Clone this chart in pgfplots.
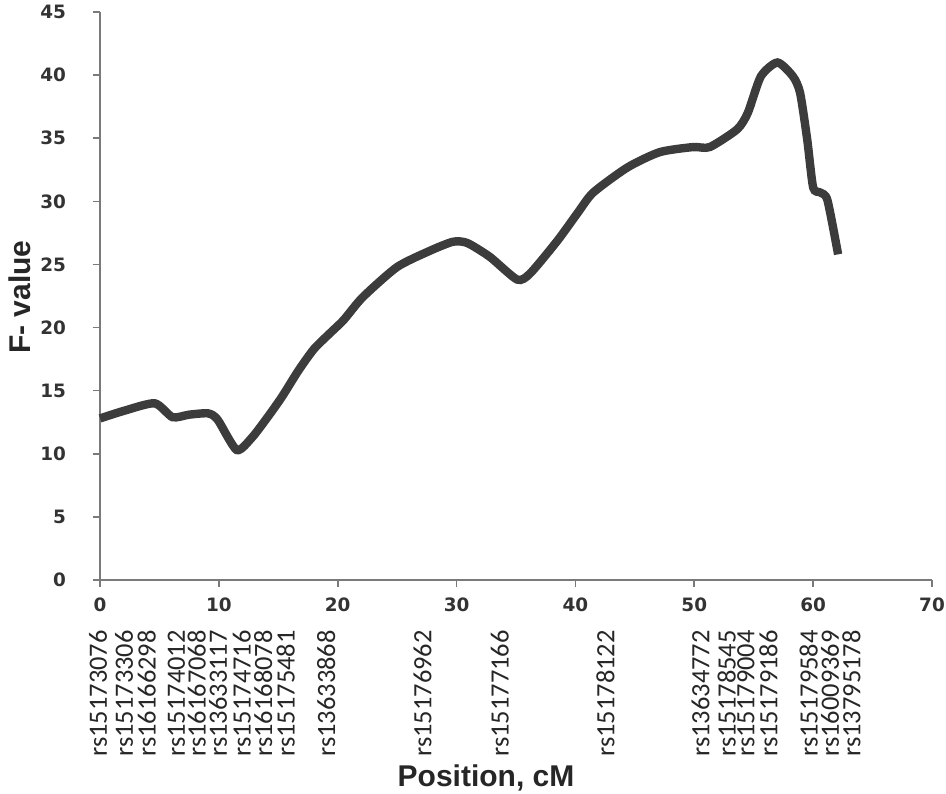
\documentclass[border=0pt]{standalone}
\usepackage{pgfplots}
\pgfplotsset{compat=1.18}
\usepackage{fontspec}
\setmainfont{Liberation Sans}
\newfontfamily\carlito{Carlito}
\newfontfamily\dejavu{DejaVu Sans}

\definecolor{clrCurve}{HTML}{3C3C3C}
\definecolor{clrAxis}{HTML}{7A7A7A}

\begin{document}
\begin{tikzpicture}
\useasboundingbox (-50pt,-106.5pt) rectangle (423pt,290pt);
\begin{axis}[
    scale only axis,
    width=416pt, height=284pt,
    xmin=0, xmax=70, ymin=0, ymax=45,
    xtick={0,10,...,70},
    ytick={0,5,...,45},
    axis lines=left,
    axis line style={clrAxis, line width=0.8pt, -},
    tick style={clrAxis, line width=0.8pt},
    tick align=outside,
    major tick length=3.5pt,
    /pgf/number format/assume math mode=true,
    tick label style={font=\dejavu\bfseries\fontsize{9.2}{11}\selectfont, text=black!80},
    yticklabel style={xshift=-10pt},
    xticklabel style={yshift=-2pt},
    extra x ticks={0,2.2,4.1,6.6,8.3,10.1,12.1,13.9,15.8,19.2,27.3,33.8,42.7,50.7,52.9,54.5,56.4,59.8,61.6,63.4},
    extra x tick labels={rs15173076,rs15173306,rs16166298,rs15174012,rs16167068,rs13633117,rs15174716,rs16168078,rs15175481,rs13633868,rs15176962,rs15177166,rs15178122,rs13634772,rs15178545,rs15179004,rs15179186,rs15179584,rs16009369,rs13795178},
    extra x tick style={
        major tick length=0pt,
        tick label style={rotate=90, anchor=east, xshift=-25pt, yshift=3pt, inner sep=0pt,
            font=\carlito\fontsize{13.2}{15}\selectfont, text=black!85},
    },
    xlabel={Position, cM},
    ylabel={F- value},
    label style={font=\bfseries\fontsize{15}{17}\selectfont, text=black!85},
    x label style={at={(axis description cs:0.464,-0.349)}, anchor=center},
    y label style={at={(axis description cs:-0.096,0.498)}, anchor=center},
    clip=false,
]
\addplot[clrCurve, line width=4.2pt, smooth, tension=0.4] coordinates {
    (0,12.8) (2,13.4) (4.6,14.0) (6.1,12.9) (7.5,13.1) (9.1,13.2)
    (9.9,12.7) (11.5,10.3) (12.8,11.3) (14.1,12.9) (15.3,14.5)
    (16.7,16.6) (18,18.3) (19.4,19.6) (20.5,20.6) (22.1,22.4)
    (25.0,24.8) (27.8,26.1) (29.7,26.8) (30.9,26.7) (32.8,25.6)
    (35.1,23.8) (36.2,24.3) (38.5,26.9) (40.2,29.1) (41.5,30.7)
    (44.4,32.7) (47.1,33.9) (49.9,34.3) (51.3,34.3) (53.6,35.7)
    (54.5,37.0) (55.6,39.9) (57.0,41.0) (58.3,39.9) (58.9,38.6)
    (59.5,34.9) (60.0,31.1) (60.6,30.7) (61.2,30.1) (62.1,25.8)
};
\end{axis}
\end{tikzpicture}
\end{document}
